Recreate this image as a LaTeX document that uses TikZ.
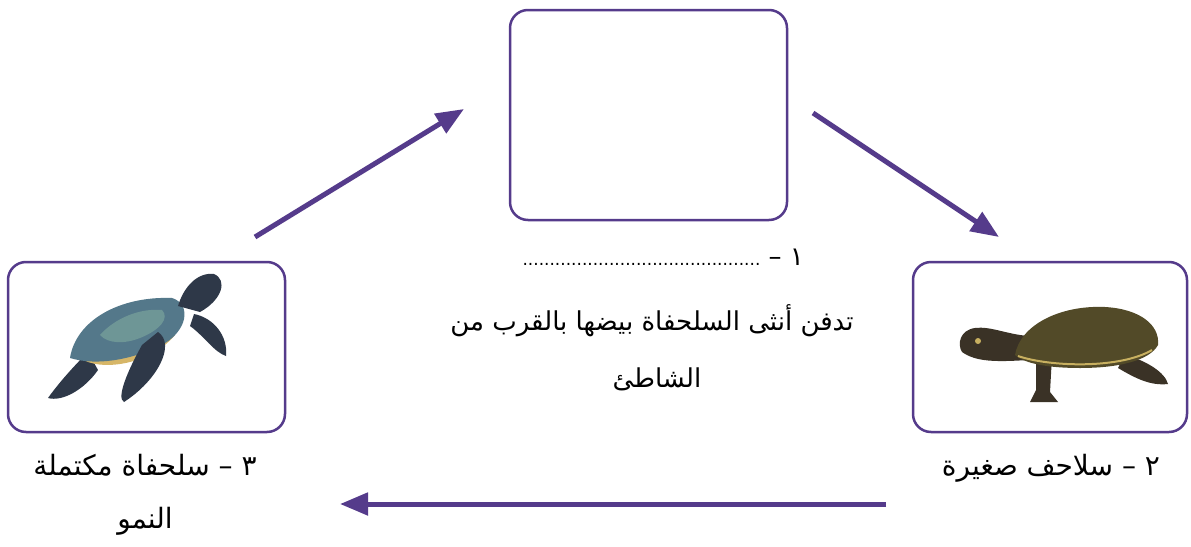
\documentclass[tikz,border=0pt]{standalone}
\usepackage{fontspec}
\usetikzlibrary{arrows.meta}
\newfontfamily\arabicfont[Script=Arabic]{DejaVu Sans}
\TeXXeTstate=1
\definecolor{purp}{RGB}{85,59,139}
\definecolor{shellblue}{RGB}{84,120,138}
\definecolor{shelltop}{RGB}{110,150,150}
\definecolor{plastron}{RGB}{214,182,104}
\definecolor{flip}{RGB}{46,56,72}
\definecolor{shellbrown}{RGB}{82,74,40}
\definecolor{body}{RGB}{58,50,38}
\definecolor{rim}{RGB}{200,176,96}
\begin{document}
\begin{tikzpicture}[x=1pt,y=-1pt,
  box/.style={draw=purp, line width=2.5pt, rounded corners=18pt, fill=white},
  conn/.style={purp, line width=5pt, -{Triangle[length=28pt,width=22pt]}},
  ar/.style={font=\arabicfont\fontsize{26}{30}\selectfont, inner sep=0pt, text=black},
  lab/.style={font=\arabicfont\fontsize{28}{32}\selectfont, inner sep=0pt, text=black}]
\useasboundingbox (0,0) rectangle (1191,546);
\fill[white] (0,0) rectangle (1191,546);

% boxes
\node[box, minimum width=277pt, minimum height=210pt] (top) at (648.5,115) {};
\node[box, minimum width=277pt, minimum height=170pt] (left) at (146.5,347) {};
\node[box, minimum width=274pt, minimum height=170pt] (right) at (1050,347) {};

% sea turtle (left)
\fill[flip] (88,352) .. controls (72,368) and (58,384) .. (48,398) .. controls (62,402) and (84,390) .. (98,370) -- cycle;
\fill[plastron] (80,358) .. controls (100,372) and (150,365) .. (175,335) .. controls (170,325) and (120,330) .. (80,350) -- cycle;
\fill[shellblue] (70,358) .. controls (76,320) and (120,296) .. (172,298) .. controls (192,304) and (188,332) .. (160,346) .. controls (130,360) and (96,366) .. (70,358) -- cycle;
\fill[shelltop] (100,335) .. controls (115,318) and (140,308) .. (162,310) .. controls (170,318) and (160,330) .. (140,338) .. controls (125,344) and (108,344) .. (100,335) -- cycle;
\fill[flip] (158,332) .. controls (176,344) and (158,380) .. (124,402) .. controls (116,398) and (128,370) .. (142,345) -- cycle;
\fill[flip] (178,306) .. controls (184,286) and (198,272) .. (214,274) .. controls (228,280) and (222,300) .. (200,312) -- cycle;
\fill[flip] (194,314) .. controls (214,318) and (228,336) .. (226,356) .. controls (214,352) and (204,336) .. (190,326) -- cycle;

% small turtle (right)
\fill[body] (1125,355) .. controls (1145,360) and (1165,372) .. (1168,384) .. controls (1150,386) and (1135,378) .. (1118,368) -- cycle;
\fill[body] (1036,352) -- (1052,356) -- (1050,392) -- (1058,402) -- (1030,402) -- (1036,390) -- cycle;
\fill[body] (1028,336) .. controls (1006,334) and (990,326) .. (975,328) .. controls (960,330) and (957,344) .. (962,352) .. controls (976,362) and (996,362) .. (1028,360) -- cycle;
\fill[rim] (978,341) circle (3pt);
\fill[shellbrown] (1015,355) .. controls (1020,325) and (1060,305) .. (1105,307) .. controls (1140,309) and (1160,325) .. (1158,345) .. controls (1150,360) and (1120,368) .. (1080,368) .. controls (1050,368) and (1025,364) .. (1015,355) -- cycle;
\draw[rim, line width=2pt] (1018,356) .. controls (1050,367) and (1120,369) .. (1152,350);

% connectors
\coordinate (a1s) at (255,237);
\coordinate (a1e) at (464,109);
\coordinate (a2s) at (813,113);
\coordinate (a2e) at (999,237);
\coordinate (a3s) at (886,504);
\coordinate (a3e) at (340,504);
\draw[conn] (a1s) -- (a1e);
\draw[conn] (a2s) -- (a2e);
\draw[conn] (a3s) -- (a3e);

% texts
\node[ar, anchor=base east] (t1) at (804,265) {\beginR ١ – {\fontsize{17}{20}\selectfont ............................................}\endR};
\node[ar, anchor=base] (t1a) at (652,330) {\beginR تدفن أنثى السلحفاة بيضها بالقرب من\endR};
\node[ar, anchor=base] (t1b) at (657,387) {\beginR الشاطئ\endR};
\node[lab, anchor=base] (t2) at (1051,475) {\beginR ٢ – سلاحف صغيرة\endR};
\node[lab, anchor=base] (t3) at (145,475) {\beginR ٣ – سلحفاة مكتملة\endR};
\node[lab, anchor=base] (t3b) at (145,528) {\beginR النمو\endR};
\end{tikzpicture}
\end{document}
